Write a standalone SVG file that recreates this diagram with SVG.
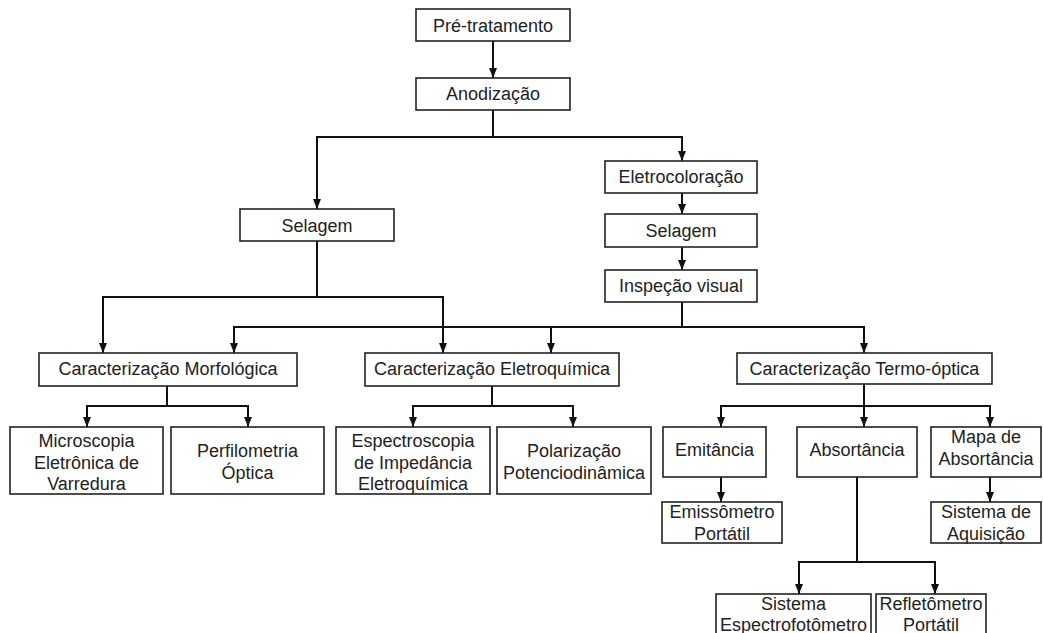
<svg xmlns="http://www.w3.org/2000/svg" width="1043" height="633" viewBox="0 0 1043 633">
<style>
.box{fill:#fff;stroke:#222;stroke-width:1.6}
.t{font-family:"Liberation Sans",Arial,sans-serif;font-size:18px;fill:#222;text-anchor:middle}
.c{fill:none;stroke:#111;stroke-width:2}
</style>
<defs>
<marker id="ah" viewBox="0 0 10 8" markerWidth="10" markerHeight="8" refX="10" refY="4" orient="auto" markerUnits="userSpaceOnUse">
<path d="M0,0 L10,4 L0,8 z" fill="#111"/>
</marker>
</defs>
<rect width="1043" height="633" fill="#fff"/>
<g id="connectors">
<path class="c" d="M493,41 V78" marker-end="url(#ah)"/>
<path class="c" d="M493,110 V137 H317 V209" marker-end="url(#ah)"/>
<path class="c" d="M493,137 H682 V161" marker-end="url(#ah)"/>
<path class="c" d="M682,193 V214" marker-end="url(#ah)"/>
<path class="c" d="M682,247 V270" marker-end="url(#ah)"/>
<path class="c" d="M317,241 V297 H103 V353" marker-end="url(#ah)"/>
<path class="c" d="M317,297 H443 V353" marker-end="url(#ah)"/>
<path class="c" d="M682,302 V327 H234 V353" marker-end="url(#ah)"/>
<path class="c" d="M551,327 V353" marker-end="url(#ah)"/>
<path class="c" d="M682,327 H864 V353" marker-end="url(#ah)"/>
<path class="c" d="M167,386 V406 H87 V427" marker-end="url(#ah)"/>
<path class="c" d="M167,406 H248 V427" marker-end="url(#ah)"/>
<path class="c" d="M492,386 V406 H413 V427" marker-end="url(#ah)"/>
<path class="c" d="M492,406 H573 V427" marker-end="url(#ah)"/>
<path class="c" d="M864,384 V406 H721 V427" marker-end="url(#ah)"/>
<path class="c" d="M864,406 V427" marker-end="url(#ah)"/>
<path class="c" d="M864,406 H990 V427" marker-end="url(#ah)"/>
<path class="c" d="M721,477 V502" marker-end="url(#ah)"/>
<path class="c" d="M990,477 V502" marker-end="url(#ah)"/>
<path class="c" d="M857,477 V562 H799 V594" marker-end="url(#ah)"/>
<path class="c" d="M857,562 H935 V594" marker-end="url(#ah)"/>
</g>
<g id="pre"><rect class="box" x="416" y="9" width="154" height="32"/><text class="t" x="493" y="31.5">Pré-tratamento</text></g>
<g id="anod"><rect class="box" x="416" y="78" width="154" height="32"/><text class="t" x="493" y="100">Anodização</text></g>
<g id="sel1"><rect class="box" x="240" y="209" width="154" height="32"/><text class="t" x="317" y="232">Selagem</text></g>
<g id="eletrocol"><rect class="box" x="605" y="161" width="152" height="32"/><text class="t" x="681" y="183">Eletrocoloração</text></g>
<g id="sel2"><rect class="box" x="605" y="214" width="152" height="33"/><text class="t" x="681" y="237">Selagem</text></g>
<g id="insp"><rect class="box" x="605" y="270" width="152" height="32"/><text class="t" x="681" y="292">Inspeção visual</text></g>
<g id="morf"><rect class="box" x="39" y="353" width="258" height="33"/><text class="t" x="168" y="375">Caracterização Morfológica</text></g>
<g id="eletroq"><rect class="box" x="365" y="353" width="254" height="33"/><text class="t" x="492" y="375">Caracterização Eletroquímica</text></g>
<g id="termo"><rect class="box" x="737" y="353" width="255" height="31"/><text class="t" x="864.5" y="375">Caracterização Termo-óptica</text></g>
<g id="mev"><rect class="box" x="10" y="427" width="153" height="67"/><text class="t" x="86.5" y="447"><tspan x="86.5">Microscopia</tspan><tspan x="86.5" dy="21.5">Eletrônica de</tspan><tspan x="86.5" dy="21.5">Varredura</tspan></text></g>
<g id="perf"><rect class="box" x="171" y="427" width="153" height="67"/><text class="t" x="247.5" y="457"><tspan x="247.5">Perfilometria</tspan><tspan x="247.5" dy="22">Óptica</tspan></text></g>
<g id="eis"><rect class="box" x="336" y="427" width="154" height="67"/><text class="t" x="413" y="447"><tspan x="413">Espectroscopia</tspan><tspan x="413" dy="21.5">de Impedância</tspan><tspan x="413" dy="21.5">Eletroquímica</tspan></text></g>
<g id="pol"><rect class="box" x="497" y="427" width="154" height="67"/><text class="t" x="574" y="457"><tspan x="574">Polarização</tspan><tspan x="574" dy="22">Potenciodinâmica</tspan></text></g>
<g id="emit"><rect class="box" x="663" y="427" width="103" height="50"/><text class="t" x="714.5" y="456">Emitância</text></g>
<g id="abs"><rect class="box" x="797" y="427" width="120" height="50"/><text class="t" x="857" y="456">Absortância</text></g>
<g id="mapa"><rect class="box" x="931" y="427" width="110" height="50"/><text class="t" x="986" y="443"><tspan x="986">Mapa de</tspan><tspan x="986" dy="22">Absortância</tspan></text></g>
<g id="emiss"><rect class="box" x="662" y="502" width="120" height="41"/><text class="t" x="722" y="518"><tspan x="722">Emissômetro</tspan><tspan x="722" dy="22">Portátil</tspan></text></g>
<g id="aquis"><rect class="box" x="931" y="502" width="110" height="41"/><text class="t" x="986" y="518"><tspan x="986">Sistema de</tspan><tspan x="986" dy="22">Aquisição</tspan></text></g>
<g id="espec"><rect class="box" x="716" y="594" width="155" height="45"/><text class="t" x="793.5" y="610"><tspan x="793.5">Sistema</tspan><tspan x="793.5" dy="21">Espectrofotômetro</tspan></text></g>
<g id="refl"><rect class="box" x="876" y="594" width="110" height="45"/><text class="t" x="931" y="610"><tspan x="931">Refletômetro</tspan><tspan x="931" dy="21">Portátil</tspan></text></g>
</svg>
